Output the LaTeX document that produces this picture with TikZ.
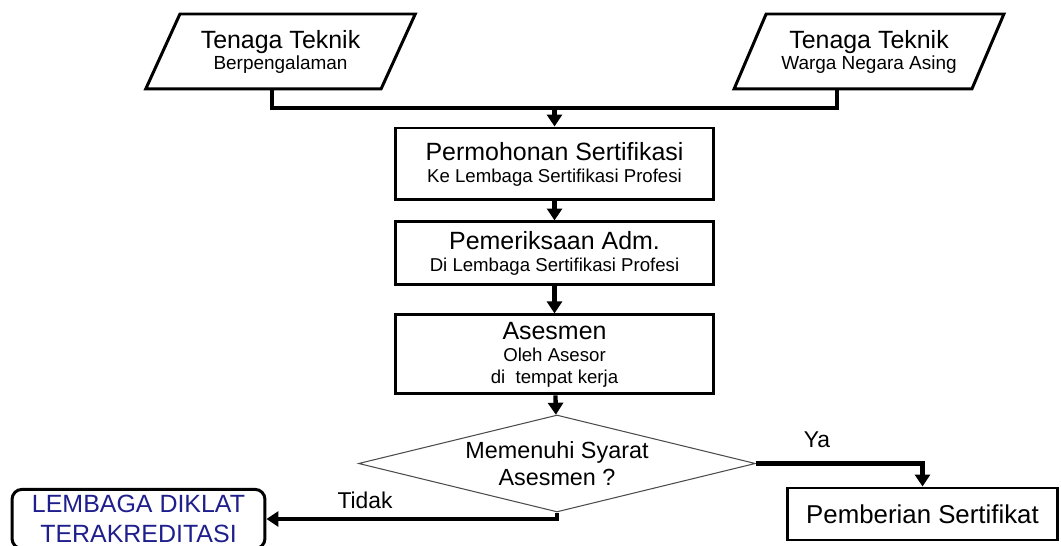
\documentclass[tikz,border=0pt]{standalone}
\usepackage{fontspec}
\setmainfont{Liberation Sans}
\usetikzlibrary{shapes, arrows.meta, positioning}

\definecolor{diklatblue}{RGB}{30,30,140}
\newcommand{\judul}[2]{{\fontsize{14.2}{12.5}\selectfont #1}\\#2}

\begin{document}
\begin{tikzpicture}[x=0.02cm, y=-0.02cm,
    data/.style={draw, line width=1.7pt, trapezium, trapezium left angle=62, trapezium right angle=118,
        trapezium stretches=true, minimum width=5.4cm, minimum height=1.5cm, align=center,
        font=\fontsize{10.8}{12}\selectfont},
    proses/.style={draw, line width=1.7pt, rectangle, minimum width=6.38cm, align=center,
        font=\fontsize{10.6}{12.5}\selectfont},
    keputusan/.style={draw=black!70, line width=0.6pt, diamond, aspect=4.1, minimum width=7.94cm, minimum height=1.94cm,
        inner sep=0pt, align=center, font=\fontsize{13.3}{15.3}\selectfont},
    hasil/.style={draw, line width=1.7pt, rounded corners=0.2cm, minimum width=5.06cm, minimum height=1.16cm,
        align=center, text=diklatblue, font=\fontsize{14.2}{17}\selectfont},
    ket/.style={font=\fontsize{13}{15}\selectfont},
    alur/.style={line width=2.5pt},
    panah/.style={alur, -{Triangle[width=8.5pt,length=6.8pt]}}]
        \useasboundingbox (0,0) rectangle (1061,546);

        % Draw the blocks
        \node (teknik1)    [data] at (280.5,51.5) {\judul{Tenaga Teknik}{Berpengalaman}};
        \node (teknikwna)  [data] at (869,51.5) {\judul{Tenaga Teknik}{Warga Negara Asing}};
        \node (mohon)      [proses, minimum height=1.44cm] at (554.5,164) {\judul{Permohonan Sertifikasi}{Ke Lembaga Sertifikasi Profesi}};
        \node (periksa)    [proses, minimum height=1.26cm, below=0.38cm of mohon] {\judul{Pemeriksaan Adm.}{Di Lembaga Sertifikasi Profesi}};
        \node (asesmen)    [proses, minimum height=1.58cm, below=0.54cm of periksa] {\judul{Asesmen}{Oleh Asesor\\di\ \ tempat kerja}};
        \node (syarat)     [keputusan] at (557,463.5) {Memenuhi Syarat\\Asesmen ?};
        \node (diklat)     [hasil] at (138.5,519) {LEMBAGA DIKLAT\\TERAKREDITASI};
        \node (sertifikat) [proses, minimum width=5.42cm, minimum height=1.04cm, font=\fontsize{14.7}{16}\selectfont] at (922.5,514) {Pemberian Sertifikat};

        % Labels
        \node (ya)    [ket] at (817,440) {Ya};
        \node (tidak) [ket] at (365,500) {Tidak};

        % Draw the connecting line
        \coordinate (gabung) at (554.5,108);
        \draw [alur] ([xshift=-0.17cm]teknik1.south) |- (gabung);
        \draw [alur] ([xshift=-0.64cm]teknikwna.south) |- (gabung);
        \draw [panah] (gabung) -- (mohon);
        \draw [panah] (mohon) -- (periksa);
        \draw [panah] (periksa) -- (asesmen);
        \draw [panah] (asesmen) -- (syarat);
        \draw [panah] (syarat.east) -| (sertifikat.north);
        \draw [panah] (syarat.south) |- (diklat.east);
    \end{tikzpicture}
\end{document}
